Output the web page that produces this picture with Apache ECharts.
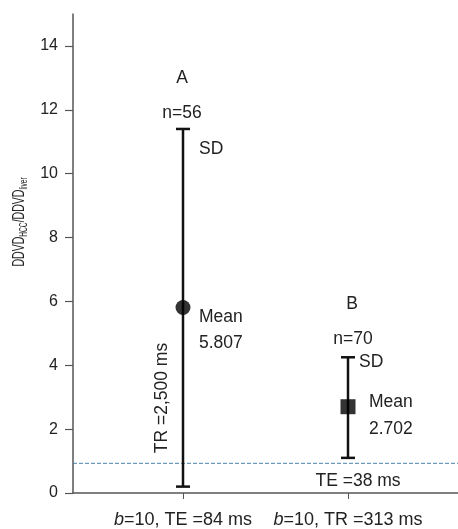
<!DOCTYPE html>
<html>
<head>
<meta charset="utf-8">
<script src="https://cdn.jsdelivr.net/npm/echarts@6/dist/echarts.min.js"></script>
<style>
  html, body { margin: 0; padding: 0; background: #fff; }
  #chart { width: 458px; height: 529px; }
</style>
</head>
<body>
<div id="chart"></div>
<script>
// groups on a numeric x scale
var groupNames = ["A", "B"];
var groupX = [1, 2.5];
var groupN = ["n=56", "n=70"];
var means = [5.807, 2.702];
var sdLow = [0.2, 1.1];
var sdHigh = [11.4, 4.25];
var xLabels = ["{i|b}=10, TE =84 ms", "{i|b}=10, TR =313 ms"];
var yTicks = [0, 2, 4, 6, 8, 10, 12, 14];
var thresholdY = 0.93;

var chart = echarts.init(document.getElementById("chart"));
var font = "Liberation Sans, Arial, sans-serif";
var txt = "17.5px " + font;

var errData = groupX.map(function (x, i) { return [x, sdLow[i], sdHigh[i]]; });

var option = {
  animation: false,
  textStyle: { fontFamily: font },
  grid: { left: 73, right: 0, top: 14, bottom: 35 },
  xAxis: {
    type: "value",
    min: 0,
    max: 3.5,
    splitLine: { show: false },
    axisLine: { lineStyle: { color: "#555", width: 1.5 } },
    axisTick: { show: true, length: 6, customValues: groupX, lineStyle: { color: "#555" } },
    axisLabel: {
      customValues: groupX,
      margin: 18,
      color: "#222",
      fontSize: 18,
      formatter: function (v) {
        var k = groupX.indexOf(v);
        return k >= 0 ? xLabels[k] : "";
      },
      rich: { i: { fontStyle: "italic", fontSize: 18, color: "#222" } }
    }
  },
  yAxis: {
    type: "value",
    min: 0,
    max: 15,
    interval: 2,
    splitLine: { show: false },
    axisLine: { show: true, lineStyle: { color: "#555", width: 1.5 } },
    axisTick: { show: true, length: 8, customValues: yTicks, lineStyle: { color: "#555", width: 1.2 } },
    axisLabel: { customValues: yTicks, color: "#222", fontSize: 16, margin: 15 }
  },
  series: [
    {
      type: "custom",
      data: errData,
      renderItem: function (params, api) {
        var x = api.value(0);
        var lo = api.coord([x, api.value(1)]);
        var hi = api.coord([x, api.value(2)]);
        var cap = 7;
        var st = { stroke: "#111", lineWidth: 2.5 };
        return {
          type: "group",
          children: [
            { type: "line", shape: { x1: lo[0], y1: lo[1], x2: hi[0], y2: hi[1] }, style: st },
            { type: "line", shape: { x1: hi[0] - cap, y1: hi[1], x2: hi[0] + cap, y2: hi[1] }, style: st },
            { type: "line", shape: { x1: lo[0] - cap, y1: lo[1], x2: lo[0] + cap, y2: lo[1] }, style: st }
          ]
        };
      },
      z: 2
    },
    {
      type: "scatter",
      data: [[groupX[0], means[0]]],
      symbol: "circle",
      symbolSize: 15,
      itemStyle: { color: "#000" },
      z: 3
    },
    {
      type: "scatter",
      data: [[groupX[1], means[1]]],
      symbol: "rect",
      symbolSize: 15,
      itemStyle: { color: "#000" },
      z: 3
    },
    {
      type: "line",
      data: [[0, thresholdY], [3.5, thresholdY]],
      symbol: "none",
      lineStyle: { color: "#4a80a8", width: 1, type: [4, 2] },
      z: 1
    }
  ],
  graphic: [
    // y axis title, narrow like the original
    {
      type: "text", x: 20, y: 222, rotation: Math.PI / 2, scaleX: 0.66,
      style: {
        text: "{n|DDVD}{s|HCC}{n|/DDVD}{s|liver}",
        align: "center", verticalAlign: "middle",
        rich: {
          n: { font: "16px " + font, fill: "#222" },
          s: { font: "10px " + font, fill: "#222", padding: [8, 0, 0, 0] }
        }
      }
    },
    { type: "text", x: 182, y: 78, style: { text: groupNames[0], font: txt, fill: "#222", align: "center", verticalAlign: "middle" } },
    { type: "text", x: 182, y: 113, style: { text: groupN[0], font: txt, fill: "#222", align: "center", verticalAlign: "middle" } },
    { type: "text", x: 199, y: 149, style: { text: "SD", font: txt, fill: "#222", verticalAlign: "middle" } },
    { type: "text", x: 199, y: 317, style: { text: "Mean", font: txt, fill: "#222", verticalAlign: "middle" } },
    { type: "text", x: 199, y: 343, style: { text: means[0].toFixed(3), font: txt, fill: "#222", verticalAlign: "middle" } },
    { type: "text", x: 162, y: 398, rotation: Math.PI / 2, style: { text: "TR =2,500 ms", font: txt, fill: "#222", align: "center", verticalAlign: "middle" } },
    { type: "text", x: 352, y: 304, style: { text: groupNames[1], font: txt, fill: "#222", align: "center", verticalAlign: "middle" } },
    { type: "text", x: 353, y: 339, style: { text: groupN[1], font: txt, fill: "#222", align: "center", verticalAlign: "middle" } },
    { type: "text", x: 359, y: 362, style: { text: "SD", font: txt, fill: "#222", verticalAlign: "middle" } },
    { type: "text", x: 369, y: 402, style: { text: "Mean", font: txt, fill: "#222", verticalAlign: "middle" } },
    { type: "text", x: 369, y: 429, style: { text: means[1].toFixed(3), font: txt, fill: "#222", verticalAlign: "middle" } },
    { type: "text", x: 358, y: 481, style: { text: "TE =38 ms", font: txt, fill: "#222", align: "center", verticalAlign: "middle" } }
  ]
};

chart.setOption(option);
</script>
</body>
</html>
